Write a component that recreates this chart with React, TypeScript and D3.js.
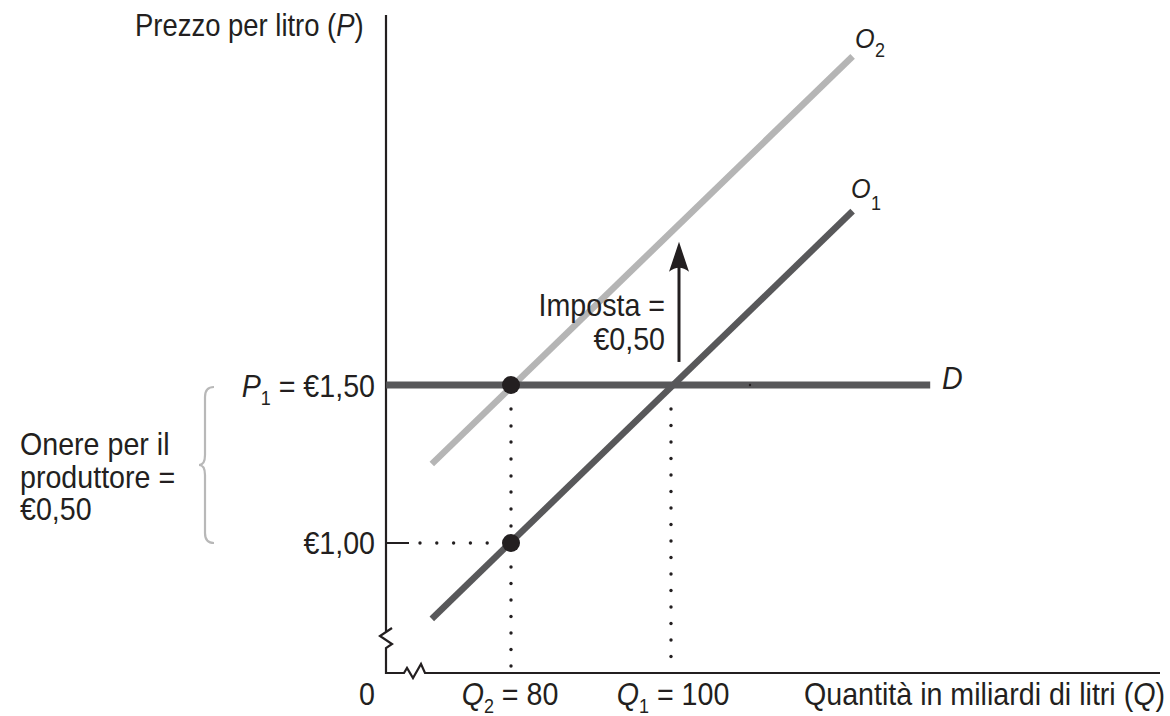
import React from "react";
import * as d3 from "d3";

// ---- Data ----
const equilibriumQuantities = [80, 100]; // Q2, Q1
const quantityLabels = ["Q2 = 80", "Q1 = 100"];
const priceLevels = [1.0, 1.5]; // €1,00 and P1 = €1,50
const supplyO1 = [
  { q: 70.1, p: 0.76 },
  { q: 122.7, p: 2.05 },
];
const supplyO2 = [
  { q: 70.1, p: 1.25 },
  { q: 122.7, p: 2.54 },
];
const demandD = [
  { q: 64.4, p: 1.5 },
  { q: 132.4, p: 1.5 },
];
const taxArrow = { q: 101, from: 1.573, to: 1.953 };
const equilibriumPoints = [
  { q: 80, p: 1.5 },
  { q: 80, p: 1.0 },
];

const W = 1170;
const H = 716;
const AX_LEFT = 386;
const AX_RIGHT = 1160;
const AX_BOTTOM = 673;
const AX_TOP = 15;

const FONT = "'Liberation Sans', Arial, sans-serif";
const SX = 0.9;

function T(props: {
  x: number;
  y: number;
  anchor?: "start" | "middle" | "end";
  size?: number;
  italic?: boolean;
  children: React.ReactNode;
}) {
  return (
    <text
      transform={`translate(${props.x},${props.y}) scale(${SX},1)`}
      textAnchor={props.anchor || "start"}
      fontSize={props.size || 31.8}
      fontStyle={props.italic ? "italic" : "normal"}
    >
      {props.children}
    </text>
  );
}

export default function App() {
  const x = d3.scaleLinear().domain([80, 100]).range([511, 671]);
  const y = d3.scaleLinear().domain([1.0, 1.5]).range([543, 385]);
  const line = d3
    .line<{ q: number; p: number }>()
    .x((d) => x(d.q))
    .y((d) => y(d.p));

  const dark = "#58585a";
  const light = "#b5b5b5";
  const ink = "#231f20";

  const dotsH: number[] = [];
  for (let px = 420; px < x(80) - 12; px += 16.8) dotsH.push(px);
  const dotsV = (xq: number, fromP: number) => {
    const arr: number[] = [];
    const y0 = y(fromP);
    for (let py = y0 + 24; py < AX_BOTTOM - 4; py += 16.5) arr.push(py);
    return arr.map((py) => ({ cx: x(xq), cy: py }));
  };

  const ax = x(taxArrow.q);
  const ayTop = y(taxArrow.to);
  const ayBot = y(taxArrow.from);

  const bx = 214;
  const bTop = y(1.5) + 2;
  const bBot = y(1.0);
  const bMid = (bTop + bBot) / 2;
  const brace = `M ${bx} ${bTop} Q ${bx - 9} ${bTop} ${bx - 9} ${bTop + 10} L ${bx - 9} ${bMid - 10} Q ${bx - 9} ${bMid} ${bx - 15} ${bMid} Q ${bx - 9} ${bMid} ${bx - 9} ${bMid + 10} L ${bx - 9} ${bBot - 10} Q ${bx - 9} ${bBot} ${bx} ${bBot}`;

  const sub = 20;

  return (
    <svg
      width={W}
      height={H}
      style={{ position: "absolute", left: 0, top: 0, background: "#fff" }}
      fontFamily={FONT}
    >
      {/* axes */}
      <path
        d={`M ${AX_LEFT} ${AX_TOP} L ${AX_LEFT} 632 l 6 -4 l -12 8 l 12 8 l -6 4 L ${AX_LEFT} ${AX_BOTTOM} L 404 ${AX_BOTTOM} l 3 -5 l 6 10 l 8 -14 l 4 9 L ${AX_RIGHT} ${AX_BOTTOM}`}
        fill="none"
        stroke={ink}
        strokeWidth={2.2}
      />

      {/* €1,00 tick and dotted guides */}
      <line x1={AX_LEFT} x2={409} y1={y(1.0)} y2={y(1.0)} stroke={ink} strokeWidth={2} />
      {dotsH.map((px, i) => (
        <circle key={"h" + i} cx={px} cy={y(1.0)} r={1.7} fill={ink} />
      ))}
      {dotsV(equilibriumQuantities[0], 1.0).map((d, i) => (
        <circle key={"v1" + i} cx={d.cx} cy={d.cy} r={1.7} fill={ink} />
      ))}
      {[24, 41, 57, 74, 91, 107, 124, 141].map((off, i) => (
        <circle key={"v0" + i} cx={x(80)} cy={y(1.5) + off} r={1.7} fill={ink} />
      ))}
      {dotsV(equilibriumQuantities[1], 1.5).map((d, i) => (
        <circle key={"v2" + i} cx={d.cx} cy={d.cy} r={1.7} fill={ink} />
      ))}

      {/* curves */}
      <path d={line(supplyO2) || ""} stroke={light} strokeWidth={6.5} fill="none" />
      <path d={line(supplyO1) || ""} stroke={dark} strokeWidth={6.5} fill="none" />
      <path d={line(demandD) || ""} stroke={dark} strokeWidth={7} fill="none" />
      <circle cx={750} cy={y(1.5)} r={1.2} fill={ink} />

      {/* points */}
      {equilibriumPoints.map((d, i) => (
        <circle key={"p" + i} cx={x(d.q)} cy={y(d.p)} r={9} fill={ink} />
      ))}

      {/* tax arrow */}
      <line x1={ax} x2={ax} y1={ayBot} y2={ayTop + 20} stroke={ink} strokeWidth={3} />
      <path
        d={`M ${ax} ${ayTop} L ${ax + 10} ${ayTop + 30} Q ${ax} ${ayTop + 22} ${ax - 10} ${ayTop + 30} Z`}
        fill={ink}
      />

      {/* brace */}
      <path d={brace} fill="none" stroke="#b8b8b8" strokeWidth={2.2} />

      {/* text */}
      <g fill={ink}>
        <T x={135} y={36} size={30.5}>
          Prezzo per litro (<tspan fontStyle="italic">P</tspan>)
        </T>
        <T x={855} y={48} size={28} italic>O</T>
        <T x={875} y={57} size={sub}>2</T>
        <T x={851} y={198} size={28} italic>O</T>
        <T x={871} y={210} size={sub}>1</T>
        <T x={942} y={389} italic>D</T>
        <T x={665} y={316} anchor="end">Imposta =</T>
        <T x={665} y={350} anchor="end">€0,50</T>

        <T x={375} y={397} anchor="end">
          <tspan fontStyle="italic">P</tspan>
          <tspan fontSize={sub} dy={8}>1</tspan>
          <tspan dy={-8}> = €1,50</tspan>
        </T>
        <T x={375} y={y(priceLevels[0]) + 11} anchor="end">€1,00</T>

        <T x={20} y={455}>Onere per il</T>
        <T x={20} y={488}>produttore =</T>
        <T x={20} y={520}>€0,50</T>

        <T x={367} y={705} anchor="middle">0</T>
        {quantityLabels.map((lab, i) => {
          const [q, rest] = lab.split(" = ");
          return (
            <T key={lab} x={x(equilibriumQuantities[i]) + (i === 0 ? -1 : 2)} y={705} anchor="middle">
              <tspan fontStyle="italic">{q[0]}</tspan>
              <tspan fontSize={sub} dy={8}>{q.slice(1)}</tspan>
              <tspan dy={-8}> = {rest}</tspan>
            </T>
          );
        })}
        <T x={1165} y={705} anchor="end">
          Quantità in miliardi di litri (<tspan fontStyle="italic">Q</tspan>)
        </T>
      </g>
    </svg>
  );
}
